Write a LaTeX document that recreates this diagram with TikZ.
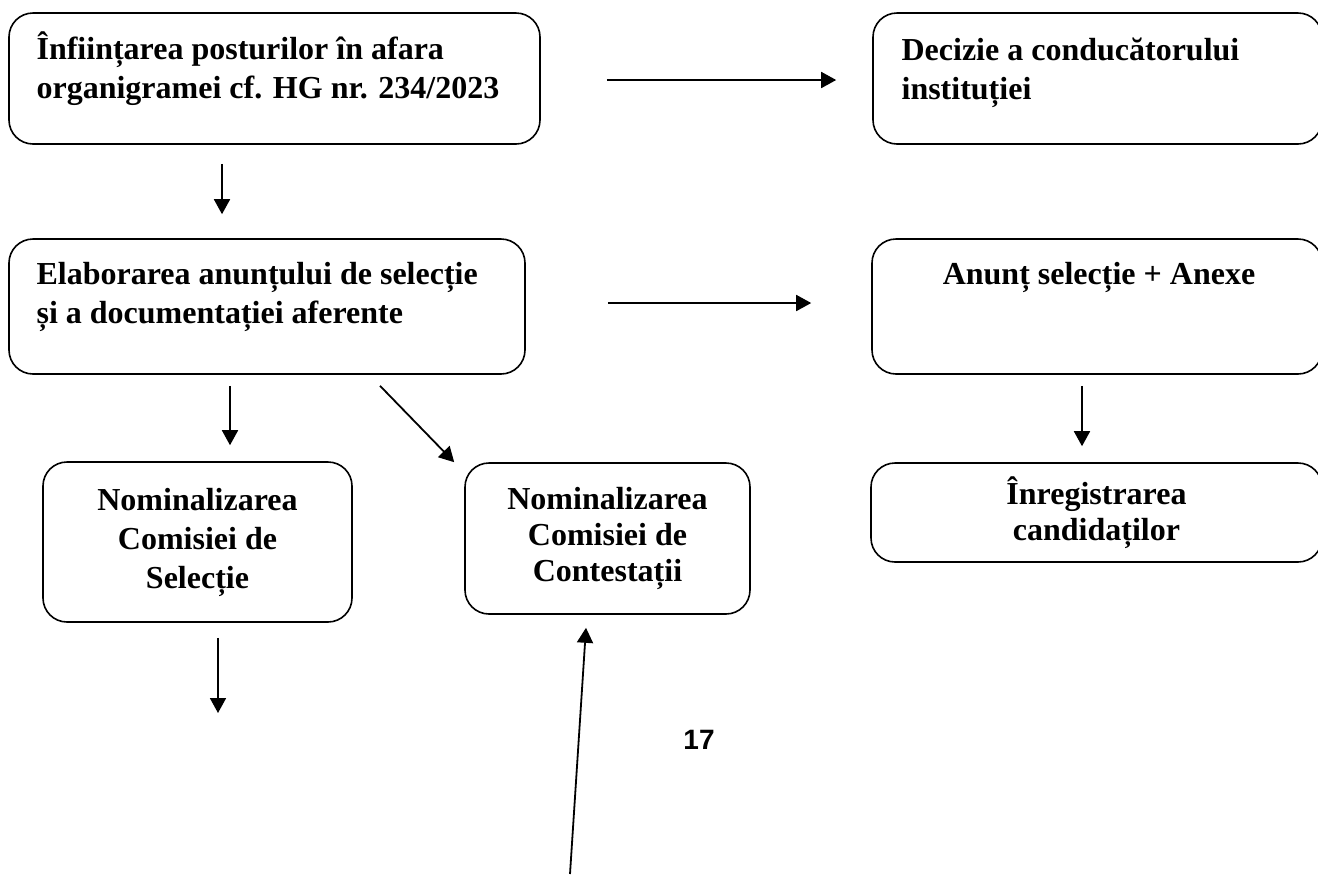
\documentclass[tikz,border=0pt]{standalone}
\usepackage{fontspec}
\setmainfont{Liberation Serif}
\newfontfamily\pagenumfont{Liberation Sans}
\usetikzlibrary{positioning,calc,arrows.meta}

\tikzset{
  box/.style={draw, rounded corners=12pt, line width=0.8pt, inner sep=0pt},
  boxtext/.style={inner sep=0pt, font=\fontsize{16}{19.5}\selectfont\bfseries, align=left},
  midtext/.style={font=\fontsize{16}{18}\selectfont\bfseries, align=center},
  arr/.style={line width=0.9pt, -{Triangle[length=7.5pt,width=8pt]}}
}

\begin{document}
\begin{tikzpicture}[x=0.5pt,y=-0.5pt]
\useasboundingbox (0,0) rectangle (1318,874);
\node[box, minimum width=265.5pt, minimum height=65.5pt] (infiint) at (274.5,78.5) {};
\node[box, minimum width=224.5pt, minimum height=65.5pt] (decizie) at (1097.5,78.5) {};
\node[box, minimum width=258pt, minimum height=67.5pt] (elab) at (267,306.5) {};
\node[box, minimum width=225pt, minimum height=67.5pt] (anunt) at (1097,306.5) {};
\node[box, midtext, minimum width=154.5pt, minimum height=80pt, font=\fontsize{16}{19.5}\selectfont\bfseries] (nomsel) at (197.5,542) {Nominalizarea\\Comisiei de\\Selecție};
\node[box, midtext, minimum width=142.5pt, minimum height=75.5pt] (nomcont) at (607.5,538.5) {Nominalizarea\\Comisiei de\\Contestații};
\node[box, midtext, minimum width=225.5pt, minimum height=49.5pt] (inreg) at (1096.5,512.5) {Înregistrarea\\candidaților};
\node[boxtext, anchor=north west] (infiinttxt) at ($(infiint.north west)+(28,19)$) {Înființarea posturilor în afara\\organigramei cf. HG nr. 234/2023};
\node[boxtext, anchor=north west] (decizietxt) at ($(decizie.north west)+(29,25)$) {Decizie a conducătorului\\instituției};
\node[boxtext, anchor=north west] (elabtxt) at ($(elab.north west)+(28,24)$) {Elaborarea anunțului de selecție\\și a documentației aferente};
\node[boxtext, anchor=north] (anunttxt) at ($(anunt.north)+(2,24)$) {Anunț selecție + Anexe};
\node[font=\fontsize{14}{16}\pagenumfont\bfseries] (pagenum) at (699,740) {17};
\coordinate (selout) at (218,713);
\coordinate (contin) at (570,874);
\draw[arr] ($(infiint.east)+(66,1.5)$) -- ($(decizie.west)+(-36,1.5)$);
\draw[arr] ($(elab.east)+(82,-3.5)$) -- ($(anunt.west)+(-60,-3.5)$);
\draw[arr] ($(infiint.south)+(-52.5,19)$) -- ($(elab.north)+(-45,-24)$);
\draw[arr] ($(elab.south)+(-37,11)$) -- ($(nomsel.north)+(32.5,-16)$);
\draw[arr] ($(elab.south)+(113,11)$) -- ($(nomcont.north west)+(-10,0)$);
\draw[arr] ($(anunt.south)+(-15,11)$) -- ($(inreg.north)+(-14.5,-16)$);
\draw[arr] ($(nomsel.south)+(20.5,15)$) -- (selout);
\draw[arr] (contin) -- ($(nomcont.south)+(-21.5,13)$);
\end{tikzpicture}
\end{document}
